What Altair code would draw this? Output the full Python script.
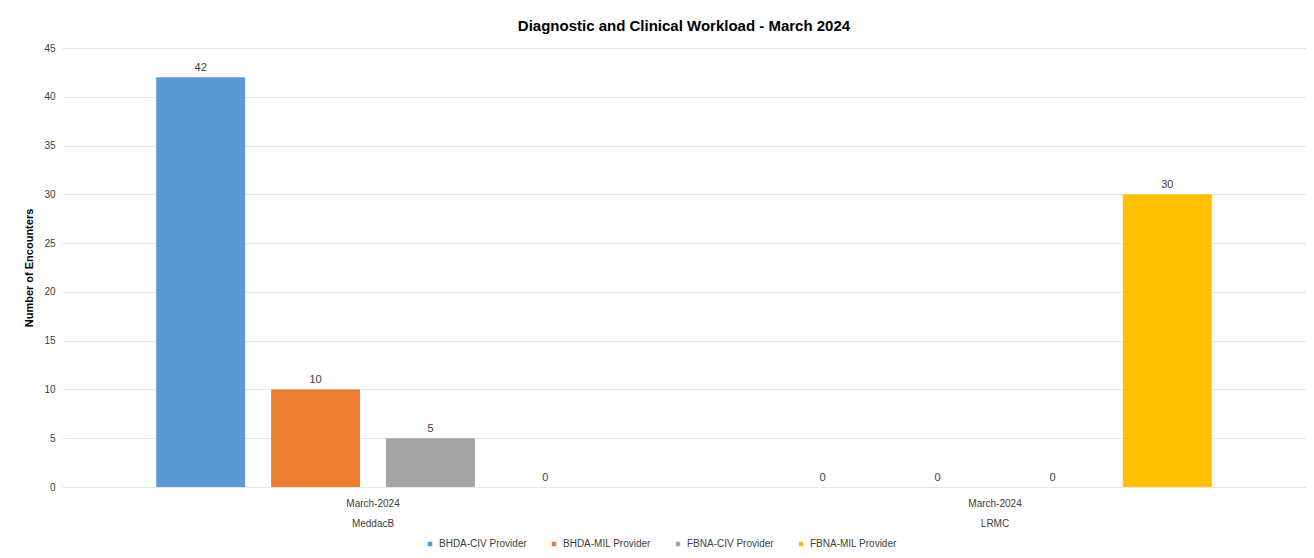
import altair as alt
import pandas as pd

groups = ["March-2024|MeddacB", "March-2024|LRMC"]
series = ["BHDA-CIV Provider", "BHDA-MIL Provider", "FBNA-CIV Provider", "FBNA-MIL Provider"]
meddacb_values = [42, 10, 5, 0]
lrmc_values = [0, 0, 0, 30]
colors = ["#5B9BD5", "#ED7D31", "#A5A5A5", "#FFC000"]

rows = []
for s, v in zip(series, meddacb_values):
    rows.append({"group": groups[0], "series": s, "value": v})
for s, v in zip(series, lrmc_values):
    rows.append({"group": groups[1], "series": s, "value": v})
df = pd.DataFrame(rows)

FONT = "Liberation Sans"

base = alt.Chart(df).encode(
    x=alt.X("group:N", sort=groups, title=None,
            scale=alt.Scale(paddingInner=0, paddingOuter=0),
            axis=alt.Axis(labelExpr="split(datum.label, '|')", labelAngle=0, grid=False,
                          labelFontSize=10, labelColor="#404040", labelFont=FONT,
                          domain=False, ticks=False, labelPadding=11, labelLineHeight=20)),
    xOffset=alt.XOffset("series:N", sort=series,
                        scale=alt.Scale(paddingInner=0.226, paddingOuter=0.82)),
)

bars = base.mark_bar().encode(
    y=alt.Y("value:Q", title="Number of Encounters",
            scale=alt.Scale(domain=[0, 45]),
            axis=alt.Axis(values=list(range(0, 46, 5)), labelFontSize=10, labelColor="#404040",
                          labelFont=FONT, titleFont=FONT, titleFontSize=11, titleFontWeight="bold",
                          titleColor="#000000", domain=False, ticks=False, labelPadding=7,
                          gridColor="#e6e6e6", titlePadding=9)),
    color=alt.Color("series:N", sort=series,
                    scale=alt.Scale(domain=series, range=colors),
                    legend=alt.Legend(title=None, orient="none", legendX=363, legendY=491,
                                      direction="horizontal",
                                      symbolType="square", symbolSize=20, labelFontSize=10,
                                      labelFont=FONT, labelColor="#404040", columnPadding=22,
                                      symbolStrokeWidth=0)),
)

labels = base.mark_text(baseline="bottom", dy=-4, fontSize=11, font=FONT, color="#404040").encode(
    y=alt.Y("value:Q"),
    text=alt.Text("value:Q"),
)

chart = alt.layer(bars, labels).properties(
    width=1244,
    height=439,
    background="white",
    padding={"left": 15, "right": 0, "top": 11, "bottom": 5},
    title=alt.TitleParams("Diagnostic and Clinical Workload - March 2024", font=FONT,
                          fontSize=15, fontWeight="bold", color="#000000", offset=9),
).configure_view(stroke=None)

chart.save("out.html", embed_options={"renderer": "svg", "actions": False})
